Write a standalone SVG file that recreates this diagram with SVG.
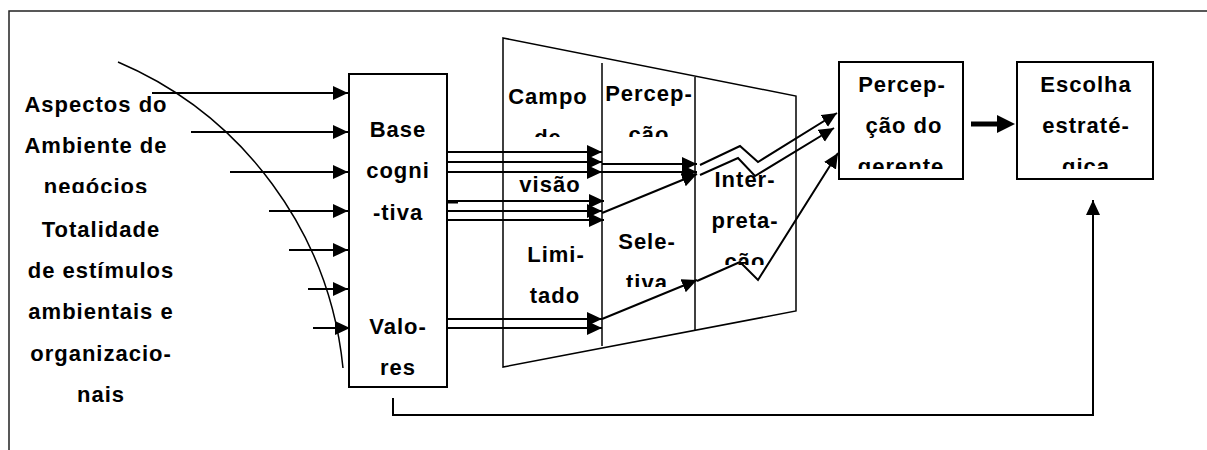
<svg xmlns="http://www.w3.org/2000/svg" width="1207" height="450" viewBox="0 0 1207 450">
<style>
text{font-family:"Liberation Sans",Arial,sans-serif;font-weight:bold;font-size:22px;letter-spacing:1px;fill:#000;text-anchor:middle}
.ln{stroke:#000;stroke-width:2;fill:none}
.thin{stroke:#000;stroke-width:1.5;fill:none}
.box{stroke:#000;stroke-width:2;fill:#fff}
.ar{stroke:#000;stroke-width:2;fill:none;marker-end:url(#ah)}
</style>
<defs>
<marker id="ah" markerUnits="userSpaceOnUse" markerWidth="16" markerHeight="15" refX="15" refY="7" orient="auto">
<path d="M0,0 L15,7 L0,14 z" fill="#000"/>
</marker>
<clipPath id="c1"><rect x="10" y="60" width="180" height="133"/></clipPath>
<clipPath id="c2"><rect x="505" y="60" width="95" height="77"/></clipPath>
<clipPath id="c3"><rect x="604" y="60" width="90" height="77"/></clipPath>
<clipPath id="c4"><rect x="604" y="220" width="90" height="67"/></clipPath>
<clipPath id="c5"><rect x="697" y="150" width="98" height="115"/></clipPath>
<clipPath id="c6"><rect x="840" y="63" width="122" height="106"/></clipPath>
<clipPath id="c7"><rect x="1018" y="63" width="134" height="106"/></clipPath>
</defs>
<rect width="1207" height="450" fill="#fff"/>
<g id="frame">
<path d="M9,450 L9,11 L1207,11" stroke="#222" stroke-width="1.5" fill="none"/>
</g>
<g id="environment">
<path class="thin" d="M118,62 A372.8,372.8 0 0 1 343,368"/>
<g clip-path="url(#c1)">
<text x="96" y="112">Aspectos do</text>
<text x="96" y="153">Ambiente de</text>
<text x="96" y="194">negócios</text>
</g>
<text x="101" y="237">Totalidade</text>
<text x="101" y="278">de estímulos</text>
<text x="101" y="319">ambientais e</text>
<text x="101" y="361">organizacio-</text>
<text x="101" y="402">nais</text>
</g>
<g id="base">
<rect class="box" x="349" y="74" width="98" height="313"/>
<text x="398" y="137">Base</text>
<text x="398" y="178">cogni</text>
<text x="398" y="220">-tiva</text>
<text x="398" y="334">Valo-</text>
<text x="398" y="375">res</text>
</g>
<g id="filter">
<polygon class="thin" points="503,38 796,96 796,311 503,367"/>
<line class="thin" x1="602" y1="63" x2="602" y2="346"/>
<line class="thin" x1="695" y1="77" x2="695" y2="330"/>
<text x="548" y="104">Campo</text>
<g clip-path="url(#c2)"><text x="548" y="145">de</text></g>
<text x="550" y="192">visão</text>
<text x="556" y="262">Limi-</text>
<text x="555" y="303">tado</text>
<text x="649" y="101">Percep-</text>
<g clip-path="url(#c3)"><text x="649" y="142">ção</text></g>
<text x="647" y="249">Sele-</text>
<g clip-path="url(#c4)"><text x="647" y="290">tiva</text></g>
<text x="745" y="187">Inter-</text>
<text x="745" y="228">preta-</text>
<g clip-path="url(#c5)"><text x="745" y="269">ção</text></g>
</g>
<g id="percepcao">
<rect class="box" x="839" y="62" width="124" height="117"/>
<g clip-path="url(#c6)">
<text x="902" y="92">Percep-</text>
<text x="904" y="133">ção do</text>
<text x="901" y="174">gerente</text>
</g>
</g>
<g id="escolha">
<rect class="box" x="1017" y="62" width="136" height="117"/>
<g clip-path="url(#c7)">
<text x="1086" y="92">Escolha</text>
<text x="1086" y="133">estraté-</text>
<text x="1086" y="174">gica</text>
</g>
</g>
<g id="connectors">
<line class="ar" x1="152" y1="93" x2="348" y2="93"/>
<line class="ar" x1="191" y1="132" x2="348" y2="132"/>
<line class="ar" x1="230" y1="172" x2="348" y2="172"/>
<line class="ar" x1="269" y1="211" x2="348" y2="211"/>
<line class="ar" x1="289" y1="250" x2="348" y2="250"/>
<line class="ar" x1="308" y1="289" x2="348" y2="289"/>
<line class="ar" x1="313" y1="328" x2="350" y2="328"/>
<line class="ar" x1="447" y1="152" x2="602" y2="152"/>
<line class="ar" x1="447" y1="162" x2="602" y2="162"/>
<line class="ar" x1="447" y1="172" x2="602" y2="172"/>
<line class="ar" x1="602" y1="164" x2="697" y2="164"/>
<line class="ar" x1="602" y1="172" x2="697" y2="172"/>
<line class="ar" x1="448" y1="201" x2="604" y2="201"/>
<line class="ln" x1="448" y1="202.5" x2="458" y2="202.5"/>
<line class="ar" x1="448" y1="211" x2="602" y2="211"/>
<line class="ar" x1="448" y1="220" x2="604" y2="220"/>
<line class="ar" x1="602" y1="213" x2="697" y2="174"/>
<line class="ar" x1="447" y1="319" x2="602" y2="319"/>
<line class="ar" x1="447" y1="328" x2="602" y2="328"/>
<line class="ar" x1="602" y1="319" x2="697" y2="280"/>
<polyline class="ar" points="700,165 740,146 758,162 837,113"/>
<polyline class="ar" points="700,175 738,158 755,176 834,128"/>
<polyline class="ar" points="697,281 740,262 758,280 838,153"/>
<line x1="971" y1="124" x2="999" y2="124" stroke="#000" stroke-width="5"/>
<polygon points="997,115 1015,124 997,133" fill="#000"/>
<polyline class="ar" points="393,398 393,415 1093,415 1093,200"/>
</g>
</svg>
